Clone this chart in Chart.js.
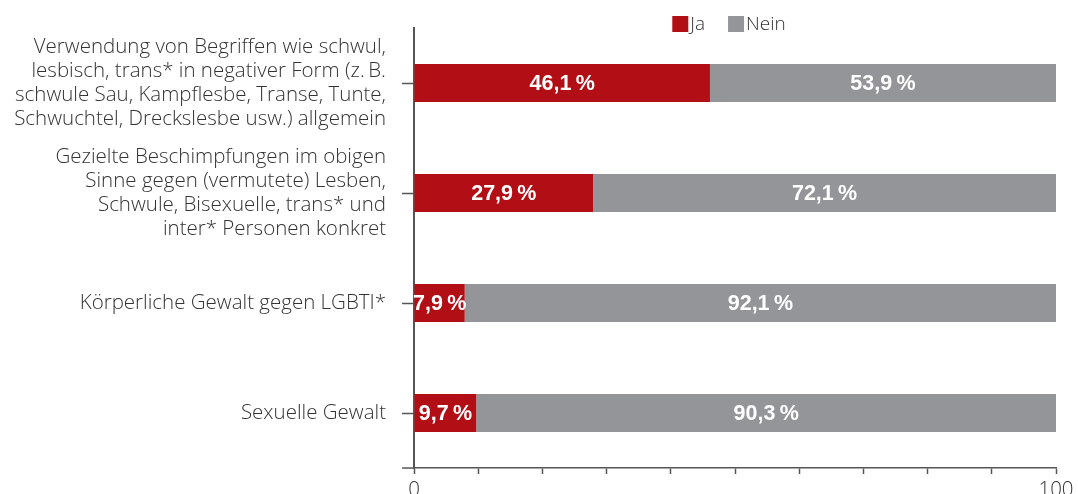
<!DOCTYPE html>
<html lang="de">
<head>
    <meta charset="UTF-8">
    <title>Diskriminierung</title>
    <script src="https://cdn.jsdelivr.net/npm/chart.js"></script>
    <style>
        body { margin: 0; overflow: hidden; background: #fff; }
    </style>
</head>
<body>
    <canvas id="grafico" width="1100" height="532"></canvas>

    <script>
        // Kategorien (mehrzeilig wie im Original)
        const kategorien = [
            ['Verwendung von Begriffen wie schwul,', 'lesbisch, trans* in negativer Form (z.\u2009B.', 'schwule Sau, Kampflesbe, Transe, Tunte,', 'Schwuchtel, Dreckslesbe usw.) allgemein'],
            ['Gezielte Beschimpfungen im obigen', 'Sinne gegen (vermutete) Lesben,', 'Schwule, Bisexuelle, trans* und', 'inter* Personen konkret'],
            'Körperliche Gewalt gegen LGBTI*',
            'Sexuelle Gewalt'
        ];
        const werteJa = [46.1, 27.9, 7.9, 9.7];
        const werteNein = [53.9, 72.1, 92.1, 90.3];
        const xTickLabels = [0, 100];

        const ROT = '#b20e16';
        const GRAU = '#939598';
        const ACHSE = '#555555';
        const SCHRIFT = '"Open Sans", "Liberation Sans", sans-serif';
        const SCHRIFT_FETT = '"Liberation Sans", Arial, sans-serif';

        // Werte in die Balken schreiben
        const wertBeschriftung = {
            id: 'wertBeschriftung',
            afterDatasetsDraw(chart) {
                const ctx = chart.ctx;
                ctx.save();
                ctx.fillStyle = '#fff';
                ctx.font = 'bold 21.5px ' + SCHRIFT_FETT;
                ctx.textAlign = 'center';
                ctx.textBaseline = 'middle';
                chart.data.datasets.forEach((ds, i) => {
                    chart.getDatasetMeta(i).data.forEach((bar, j) => {
                        const txt = ds.data[j].toFixed(1).replace('.', ',') + '\u2009%';
                        ctx.fillText(txt, (bar.x + bar.base) / 2, bar.y + 1);
                    });
                });
                ctx.restore();
            }
        };

        // Legende oben und kleine Verlängerung der x-Achse nach links
        const legendeUndAchse = {
            id: 'legendeUndAchse',
            afterDraw(chart) {
                const ctx = chart.ctx;
                const area = chart.chartArea;
                ctx.save();
                ctx.strokeStyle = ACHSE;
                ctx.lineWidth = 1.5;
                const yAchse = chart.scales.x.top;
                ctx.beginPath();
                ctx.moveTo(area.left - 12, yAchse);
                ctx.lineTo(area.left, yAchse);
                ctx.stroke();

                ctx.font = '300 19px ' + SCHRIFT;
                ctx.textBaseline = 'middle';
                ctx.textAlign = 'left';
                const box = 16, luecke = 2, abstand = 23;
                const items = chart.data.datasets.map(ds => ({
                    text: ds.label, color: ds.backgroundColor,
                    w: box + luecke + ctx.measureText(ds.label).width
                }));
                const gesamt = items.reduce((s, it) => s + it.w, 0) + abstand * (items.length - 1);
                let x = (area.left + area.right) / 2 - gesamt / 2 - 6;
                const y = 16;
                items.forEach(it => {
                    ctx.fillStyle = it.color;
                    ctx.fillRect(x, y, box, box);
                    ctx.fillStyle = '#333';
                    ctx.fillText(it.text, x + box + luecke, y + box / 2 + 1);
                    x += it.w + abstand;
                });
                ctx.restore();
            }
        };

        const ctx = document.getElementById('grafico').getContext('2d');
        new Chart(ctx, {
            type: 'bar',
            data: {
                labels: kategorien,
                datasets: [
                    { label: 'Ja', data: werteJa, backgroundColor: ROT, barPercentage: 0.346, categoryPercentage: 1 },
                    { label: 'Nein', data: werteNein, backgroundColor: GRAU, barPercentage: 0.346, categoryPercentage: 1 }
                ]
            },
            options: {
                indexAxis: 'y',
                responsive: false,
                animation: false,
                layout: { padding: { top: 28, right: 44, left: 0, bottom: 0 } },
                plugins: {
                    legend: { display: false },
                    tooltip: { enabled: false }
                },
                scales: {
                    x: {
                        stacked: true,
                        min: 0,
                        max: 100,
                        afterFit(scale) { scale.height = 53; },
                        border: { color: ACHSE, width: 1.5 },
                        grid: { drawOnChartArea: false, tickLength: 6, color: ACHSE, tickWidth: 1.5 },
                        ticks: {
                            stepSize: 10,
                            autoSkip: false,
                            maxRotation: 0,
                            padding: 4,
                            color: '#333',
                            font: { family: SCHRIFT, size: 20.5, weight: 300 },
                            callback: v => xTickLabels.includes(v) ? String(v) : ''
                        }
                    },
                    y: {
                        stacked: true,
                        afterFit(scale) { scale.width = 414; },
                        border: { color: ACHSE, width: 2 },
                        grid: { offset: false, drawOnChartArea: false, tickLength: 12, color: ACHSE, tickWidth: 1.5 },
                        ticks: {
                            padding: 16,
                            color: '#333',
                            font: { family: SCHRIFT, size: 20.5, weight: 300, lineHeight: 1.17 }
                        }
                    }
                }
            },
            plugins: [wertBeschriftung, legendeUndAchse]
        });
    </script>
</body>
</html>
